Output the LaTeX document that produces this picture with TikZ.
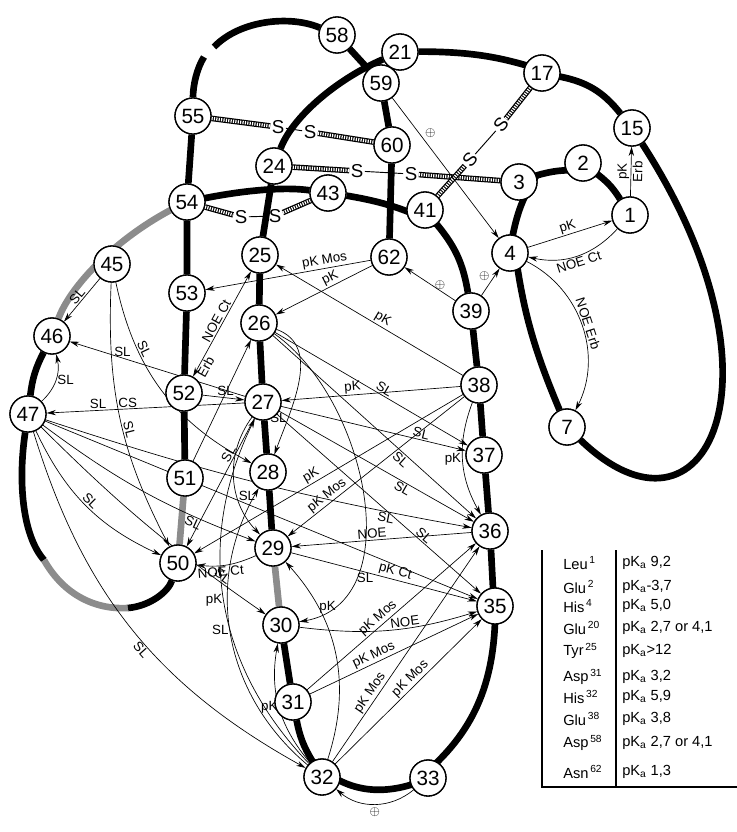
\documentclass[tikz,border=0pt]{standalone}
\usepackage{fontspec}
\setmainfont{Liberation Sans}
\usepackage{tikz}
\usetikzlibrary{arrows.meta}
\tikzstyle{vertex}=[circle,draw,line width=1pt,fill=white,minimum size=27pt,inner sep=0pt,font=\fontsize{15.5}{15.5}\selectfont]
\tikzstyle{backbone}=[draw,line width=5pt]
\tikzstyle{gray backbone}=[draw=black!45,line width=5pt]
\tikzstyle{ssbond}=[draw=white,line width=2.4pt,dash pattern=on 0.9pt off 0.9pt,preaction={draw=black,solid,line width=4.2pt}]
\tikzstyle{sslink}=[draw,line width=0.7pt]
\tikzstyle{sulfur}=[inner sep=1pt,font=\fontsize{14}{14}\selectfont]
\tikzstyle{arrow}=[draw,line width=0.5pt,->]
\tikzstyle{method}=[font=\fontsize{10}{10}\selectfont,inner sep=1pt]
\tikzstyle{charge}=[font=\normalsize,inner sep=0.5pt]
\tikzstyle{entry}=[anchor=west,font=\fontsize{11}{11}\selectfont,inner sep=0pt]

\begin{document}
\begin{tikzpicture}[x=0.75pt,y=-0.75pt,>={Stealth[length=7pt,width=4pt]}]
    \useasboundingbox (0,0) rectangle (737,832);
    % residues
    \foreach \pos/\name in {{(630,215)/1}, {(583,163)/2}, {(519,182)/3}, {(510,253)/4},
        {(567,427)/7}, {(632,128)/15}, {(542,73)/17}, {(400,52)/21}, {(274,166)/24},
        {(260,255)/25}, {(259,323)/26}, {(263,402)/27}, {(268,472)/28}, {(273,548)/29},
        {(281,625)/30}, {(293,702)/31}, {(322,777)/32}, {(428,778)/33}, {(495,606)/35},
        {(490,531)/36}, {(484,455)/37}, {(479,385)/38}, {(471,311)/39}, {(425,210)/41},
        {(328,193)/43}, {(112,264)/45}, {(52,336)/46}, {(28,414)/47}, {(178,563)/50},
        {(185,478)/51}, {(184,393)/52}, {(187,293)/53}, {(187,202)/54}, {(193,116)/55},
        {(337,35)/58}, {(381,83)/59}, {(392,145)/60}, {(389,257)/62}}
        \node[vertex] (\name) at \pos {\name};
    \node[sulfur] (s55) at (278,127) {S};
    \node[sulfur] (s60) at (310,132) {S};
    \node[sulfur] (s24) at (357,171) {S};
    \node[sulfur] (s3) at (411,174) {S};
    \node[sulfur] (s54) at (241,217) {S};
    \node[sulfur] (s43) at (275,216) {S};
    \node[sulfur,rotate=50] (s41) at (470,160) {S};
    \node[sulfur,rotate=50] (s17) at (501,125) {S};
    \coordinate (gapa) at (204,57);
    \coordinate (gapb) at (214,47);
    \coordinate (g1) at (44,560);
    \coordinate (g2) at (128,608);

    % chain
    \path[backbone] (1) to[bend right=10] (2) to[bend right=15] (3) to[bend right=10] (4) to[bend right=8] (7);
    \path[backbone] (7) .. controls (705,560) and (795,380) .. (15);
    \path[backbone] (15) to[bend right=20] (17) to[bend right=10] (21);
    \path[backbone] (21) .. controls (335,80) and (292,118) .. (24);
    \path[backbone] (24) -- (25) -- (26) -- (27) -- (28) -- (29);
    \path[gray backbone] (29) -- (30);
    \path[backbone] (30) -- (31) to[bend right=10] (32) to[bend right=30] (33) to[bend right=25] (35)
        -- (36) -- (37) -- (38) -- (39) to[bend right=15] (41) to[bend right=8] (43);
    \path[backbone] (43) .. controls (280,186) and (230,192) .. (54.center);
    \path[gray backbone] (54.center) .. controls (125,230) and (72,282) .. (46);
    \path[backbone] (46) to[bend right=10] (47);
    \path[backbone] (47) .. controls (18,480) and (22,535) .. (g1);
    \path[gray backbone] (g1) .. controls (62,592) and (92,610) .. (g2);
    \path[backbone] (g2) .. controls (150,606) and (168,592) .. (50);
    \path[gray backbone] (50) -- (51);
    \path[backbone] (51) -- (52) -- (53) -- (54) -- (55);
    \path[backbone] (55) .. controls (193,85) and (197,68) .. (gapa);
    \path[backbone] (gapb) .. controls (240,20) and (290,15) .. (58);
    \path[backbone] (58) -- (59) -- (60) -- (62);

    % disulfide bridges
    \path[ssbond] (55) -- (s55);
    \path[ssbond] (s60) -- (60);
    \path[ssbond] (24) -- (s24);
    \path[ssbond] (s3) -- (3);
    \path[ssbond] (54) -- (s54);
    \path[ssbond] (s43) -- (43);
    \path[ssbond] (41) -- (s41);
    \path[ssbond] (s17) -- (17);
    \foreach \a/\b in {s55/s60, s24/s3, s54/s43, s41/s17}
        \path[sslink] (\a) -- (\b);

    % His 4, Leu 1
    \path[arrow] (59) -- node[charge,pos=.25,right=4pt]{$\oplus$} (4);
    \path[arrow] (39) -- node[charge,above left]{$\oplus$} (4);
    \path[arrow] (39) -- node[charge,pos=.3,above]{$\oplus$} (62);
    \path[arrow] (1) -- node[method,sloped,above]{pK} node[method,sloped,below]{Erb} (15);
    \path[arrow] (4) -- node[method,sloped,above]{pK} (1);
    \path[arrow] (1) to[bend left=30] node[method,sloped,below]{NOE Ct} (4);
    \path[arrow] (4) to[bend left=45] node[method,sloped,above]{NOE Erb} (7);

    % Tyr 25, Asn 62
    \path[arrow] (62) -- node[method,sloped,above,pos=.27]{pK Mos} (53);
    \path[arrow] (62) -- node[method,sloped,above,pos=.4]{pK} (26);
    \path[arrow] (38) -- node[method,sloped,above,pos=.45]{pK} (25);
    \path[arrow,<->] (52) -- node[method,sloped,above,pos=.5]{NOE Ct} node[method,sloped,below,pos=.12]{Erb} (25);
    \path[arrow] (51) -- (26);

    % left loop
    \path[arrow] (45) -- node[method,sloped,above]{SL} (46);
    \path[arrow] (27) -- node[method,above,pos=.7]{SL} (46);
    \path[arrow] (45) to[bend right=15] node[method,sloped,above,pos=.55]{SL} (50);
    \path[arrow] (45) to[bend right=25] node[method,sloped,above,pos=.3]{SL} (28);
    \path[arrow] (47) to[bend right=30] node[method,right]{SL} (46);
    \path[arrow] (27) -- node[method,above,pos=.59]{CS} node[method,above,pos=.74]{SL} (47);
    \path[arrow] (47) to[bend right=20] node[method,sloped,above]{SL} (50);
    \path[arrow] (47) to[bend right=8] node[method,sloped,below,pos=.75]{SL} (29);
    \path[arrow] (47) to[bend right=5] node[method,sloped,above,pos=.82]{SL} (30);
    \path[arrow] (47) to[bend right=4] node[method,sloped,below,pos=.82]{SL} (36);
    \path[arrow] (47) -- (35);
    \path[arrow] (47) to[bend right=22] node[method,sloped,below,pos=.55]{SL} (32);
    \path[arrow] (52) -- node[method,above,pos=.55]{SL} (27);
    \path[arrow] (27) -- node[method,sloped,above,pos=.3]{SL} (50);
    \path[arrow] (27) to[bend right=40] node[method,right,pos=.65]{SL} (29);

    % 26, 27, 38 fans
    \path[arrow] (26) -- node[method,sloped,above,pos=.55]{SL} (37);
    \path[arrow] (27) -- node[method,sloped,above,pos=.75]{SL} (37);
    \path[arrow] (26) -- node[method,sloped,below,pos=.65]{SL} (36);
    \path[arrow] (27) -- node[method,sloped,below,pos=.65]{SL} (36);
    \path[arrow] (27) -- node[method,sloped,above,pos=.7]{SL} (35);
    \path[arrow] (26) to[out=-20,in=70] node[method,left,pos=.75]{SL} (28);
    \path[arrow] (26) to[out=-35,in=10] node[method,right,pos=.75]{SL} (30);
    \path[arrow] (38) -- node[method,sloped,above,pos=.6]{pK} (27);
    \path[arrow] (38) to[bend right=25] node[method,left]{pK} (36);
    \path[arrow] (38) -- node[method,sloped,above,pos=.55]{pK} (50);
    \path[arrow] (38) -- node[method,sloped,above,pos=.75]{pK Mos} (29);
    \path[arrow] (36) -- node[method,sloped,above,pos=.55]{NOE} (29);
    \path[arrow] (29) -- node[method,sloped,above,pos=.55]{pK Ct} (35);
    \path[arrow] (29) to[bend left=15] node[method,sloped,below,pos=.62]{NOE Ct} (50);

    % Asp 31, His 32
    \path[arrow] (31) -- node[method,sloped,above,pos=.45]{pK Mos} (36);
    \path[arrow] (31) -- node[method,sloped,above,pos=.4]{pK Mos} (35);
    \path[arrow] (32) -- node[method,sloped,above,pos=.3]{pK Mos} (36);
    \path[arrow] (32) -- node[method,sloped,above,pos=.55]{pK Mos} (35);
    \path[arrow] (30) to[bend right=12] node[method,sloped,above,pos=.6]{NOE} (35);
    \path[arrow] (32) to[bend left=35] node[method,left,pos=.5]{pK} (27);
    \path[arrow] (32) to[bend left=40] node[method,left,pos=.52]{SL} (28);
    \path[arrow] (32) to[bend left=25] node[method,left]{pK} (30);
    \path[arrow] (32) to[bend right=30] node[method,right,pos=.75]{pK} (29);
    \path[arrow] (33) to[bend left=40] node[charge,below=2pt]{$\oplus$} (32);

    \foreach \vertex in {1,2,3,4,7,15,17,21,24,25,26,27,28,29,30,31,32,33,35,36,37,38,39,41,43,45,46,47,50,51,52,53,54,55,58,59,60,62}
        \node[vertex] at (\vertex) {\vertex};

    % pK table
    \draw[line width=0.9pt] (542,550) -- (542,787) -- (737,787);
    \draw[line width=0.9pt] (616,550) -- (616,787);
    \foreach \i/\res/\num/\val/\y in {1/Leu/1/{\ 9,2}/563, 2/Glu/2/{-3,7}/587, 3/His/4/{\ 5,0}/606,
        4/Glu/20/{\ 2,7 or 4,1}/628, 5/Tyr/25/{>12}/651, 6/Asp/31/{\ 3,2}/677, 7/His/32/{\ 5,9}/697,
        8/Glu/38/{\ 3,8}/719, 9/Asp/58/{\ 2,7 or 4,1}/743, 10/Asn/62/{\ 1,3}/772}
    {
        \node[entry] (res\i) at (563,\y) {\res\textsuperscript{\,\num}};
        \node[entry] (pka\i) at (622,\y) {pK\textsubscript{a}\val};
    }
\end{tikzpicture}
\end{document}
